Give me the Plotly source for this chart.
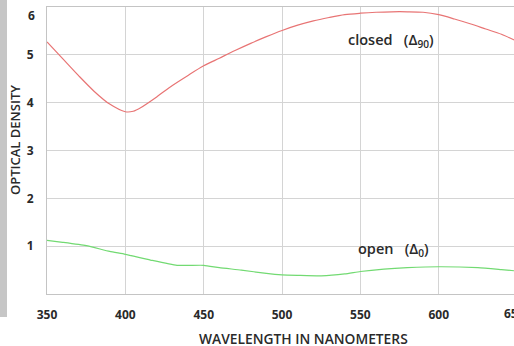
import plotly.graph_objects as go

# Optical density of the shutter versus wavelength
wavelength_closed = [350, 360, 370, 380, 390, 400, 405, 410, 420, 430, 440, 450, 460, 470,
                     480, 490, 500, 510, 520, 530, 540, 550, 560, 570, 580, 590, 600, 610,
                     620, 630, 640, 650]
density_closed = [5.27, 4.92, 4.57, 4.24, 3.97, 3.81, 3.82, 3.90, 4.12, 4.36, 4.57, 4.77, 4.93,
                  5.09, 5.24, 5.38, 5.51, 5.62, 5.71, 5.78, 5.84, 5.87, 5.89, 5.90, 5.90, 5.89,
                  5.84, 5.75, 5.65, 5.54, 5.43, 5.28]

wavelength_open = [350, 360, 375, 390, 400, 416, 433, 450, 460, 474, 490, 500, 510, 525, 540,
                   550, 565, 580, 600, 625, 640, 650]
density_open = [1.12, 1.08, 1.01, 0.89, 0.83, 0.71, 0.60, 0.60, 0.55, 0.50, 0.43, 0.40, 0.39,
                0.38, 0.42, 0.47, 0.52, 0.55, 0.57, 0.55, 0.51, 0.48]

x_ticks = [350, 400, 450, 500, 550, 600]
y_ticks = [1, 2, 3, 4, 5]

W, H = 514, 346
L, T, B = 47, 7, 52
plot_w = W - L
plot_h = H - T - B
px_per_nm = 1.567
x_max = 350 + plot_w / px_per_nm

FONT = "Open Sans"
TXT = "#2a2a2a"
SP = "\u00a0" * 3

fig = go.Figure()
fig.add_trace(go.Scatter(x=wavelength_closed, y=density_closed, mode="lines",
                         line=dict(color="#e87474", width=1.2, shape="spline", smoothing=0.8),
                         hoverinfo="skip"))
fig.add_trace(go.Scatter(x=wavelength_open, y=density_open, mode="lines",
                         line=dict(color="#72da72", width=1.2, shape="spline", smoothing=0.5),
                         hoverinfo="skip"))

annotations = [
    # curve labels
    dict(x=540.8, y=5.31, xref="x", yref="y", xanchor="left", yanchor="middle",
         text="closed" + SP + "(\u0394<sub>90</sub>)", showarrow=False,
         font=dict(family=FONT, size=14.5, color=TXT, weight=600)),
    dict(x=547.2, y=0.92, xref="x", yref="y", xanchor="left", yanchor="middle",
         text="open" + SP + "(\u0394<sub>0</sub>)", showarrow=False,
         font=dict(family=FONT, size=14.5, color=TXT, weight=600)),
    # top tick label sits just under the frame
    dict(x=0, y=6, xref="paper", yref="y", xanchor="right", yanchor="middle",
         xshift=-10, yshift=-8, text="6", showarrow=False,
         font=dict(family=FONT, size=12, color=TXT, weight=700)),
    # last x tick label at the right edge
    dict(x=(650 - 350) / (x_max - 350), y=0, xref="paper", yref="paper",
         xanchor="center", yanchor="middle", xshift=-3, yshift=-19, text="650",
         showarrow=False, font=dict(family=FONT, size=12, color=TXT, weight=700)),
    # axis titles
    dict(x=(303 - L) / plot_w, y=0, xref="paper", yref="paper", xanchor="center",
         yanchor="middle", yshift=-44, text="WAVELENGTH IN NANOMETERS", showarrow=False,
         font=dict(family=FONT, size=13.8, color=TXT, weight=600)),
    dict(x=0, y=(294 - 140) / plot_h, xref="paper", yref="paper", xanchor="center",
         yanchor="middle", xshift=-32, text="OPTICAL DENSITY", textangle=-90,
         showarrow=False, font=dict(family=FONT, size=13, color=TXT, weight=600)),
]

shapes = [
    # textured strip along the left edge of the page
    dict(type="rect", xref="paper", yref="paper", x0=-L / plot_w, x1=(7 - L) / plot_w,
         y0=(294 - 317) / plot_h, y1=(294 - 0) / plot_h, fillcolor="#c6c6c6",
         line=dict(width=0), layer="below"),
]

fig.update_layout(
    width=W, height=H,
    margin=dict(l=L, r=0, t=T, b=B, pad=0),
    paper_bgcolor="white", plot_bgcolor="white",
    showlegend=False,
    annotations=annotations,
    shapes=shapes,
    xaxis=dict(range=[350, x_max], tickvals=x_ticks, ticktext=[str(v) for v in x_ticks],
               showgrid=True, gridcolor="#d4d4d4", gridwidth=1,
               showline=True, linecolor="#c4c4c4", linewidth=1, mirror=True,
               ticks="", ticklabelstandoff=10, zeroline=False,
               tickfont=dict(family=FONT, size=12, color=TXT, weight=700)),
    yaxis=dict(range=[0, 6], tickvals=y_ticks, ticktext=[str(v) for v in y_ticks],
               showgrid=True, gridcolor="#d4d4d4", gridwidth=1,
               showline=True, linecolor="#c4c4c4", linewidth=1, mirror=True,
               ticks="", ticklabelstandoff=10, zeroline=False,
               tickfont=dict(family=FONT, size=12, color=TXT, weight=700)),
)

fig.write_html("out.html")
